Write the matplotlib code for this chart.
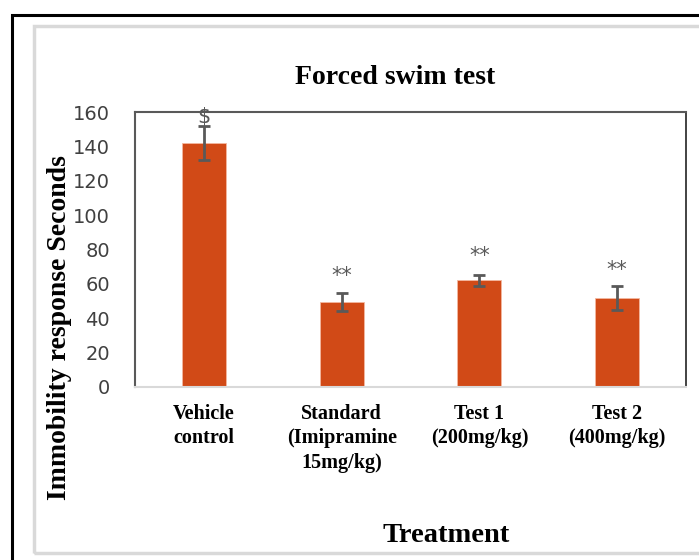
import numpy as np
import matplotlib.pyplot as plt
from matplotlib.patches import Rectangle

# ---- data ----
groups = ['Vehicle\ncontrol', 'Standard\n(Imipramine\n15mg/kg)', 'Test 1\n(200mg/kg)', 'Test 2\n(400mg/kg)']
means = [142, 49.5, 62, 52]
errors = [10, 5, 3, 7]
marks = ['$', '**', '**', '**']
mark_offset = [-1, 5, 7, 4]  # points above error cap

bar_color = '#D14A17'
grey = '#595959'

fig = plt.figure(figsize=(6.99, 5.6), dpi=100)

# outer frame lines (black + light grey chart-area border)
fig.patches.append(Rectangle((12 / 699, -0.1), 2.0, 1.1 - 15 / 560, transform=fig.transFigure,
                             fill=False, edgecolor='black', linewidth=2.2))
fig.patches.append(Rectangle((34 / 699, 1 - 553 / 560), 2.0, (553 - 26) / 560, transform=fig.transFigure,
                             fill=False, edgecolor='#d9d9d9', linewidth=2.5))

ax = fig.add_axes([135 / 699, 1 - 387 / 560, (686 - 135) / 699, (387 - 112) / 560])
x = np.arange(len(groups))
ax.bar(x, means, width=0.32, color=bar_color, edgecolor='#f4b8a0', linewidth=0.6, zorder=2)
ax.errorbar(x, means, yerr=errors, fmt='none', ecolor=grey, elinewidth=2, capsize=4.5, capthick=2, zorder=3)

for xi, m, e, s, off in zip(x, means, errors, marks, mark_offset):
    ax.annotate(s, (xi, m + e), xytext=(0, off), textcoords='offset points',
                ha='center', va='bottom', color=grey, fontsize=15,
                family='DejaVu Sans', clip_on=False, zorder=4)

ax.set_xlim(-0.5, 3.5)
ax.set_ylim(0, 160)
ax.set_yticks(np.arange(0, 161, 20))
ax.set_xticks(x)
ax.set_xticklabels(groups, fontfamily='Liberation Serif', fontweight='bold', fontsize=14.5,
                   linespacing=1.3, va='top')
ax.tick_params(axis='x', length=0, pad=12)
ax.tick_params(axis='y', length=0, pad=18, labelsize=14, labelcolor='#404040')

for side in ['left', 'top']:
    ax.spines[side].set_color(grey)
    ax.spines[side].set_linewidth(1.5)
ax.spines['right'].set_color('#222222')
ax.spines['right'].set_linewidth(1.2)
ax.spines['bottom'].set_color('#d9d9d9')
ax.spines['bottom'].set_linewidth(1.5)

fig.text(395 / 699, 1 - 78 / 560, 'Forced swim test', ha='center', va='center',
         fontfamily='Liberation Serif', fontweight='bold', fontsize=20)
fig.text(60 / 699, 1 - 328 / 560, 'Immobility response Seconds', ha='center', va='center', rotation=90,
         fontfamily='Liberation Serif', fontweight='bold', fontsize=20)
fig.text(446 / 699, 1 - 535 / 560, 'Treatment', ha='center', va='center',
         fontfamily='Liberation Serif', fontweight='bold', fontsize=20.5)

fig.savefig('out.png', dpi=100)
